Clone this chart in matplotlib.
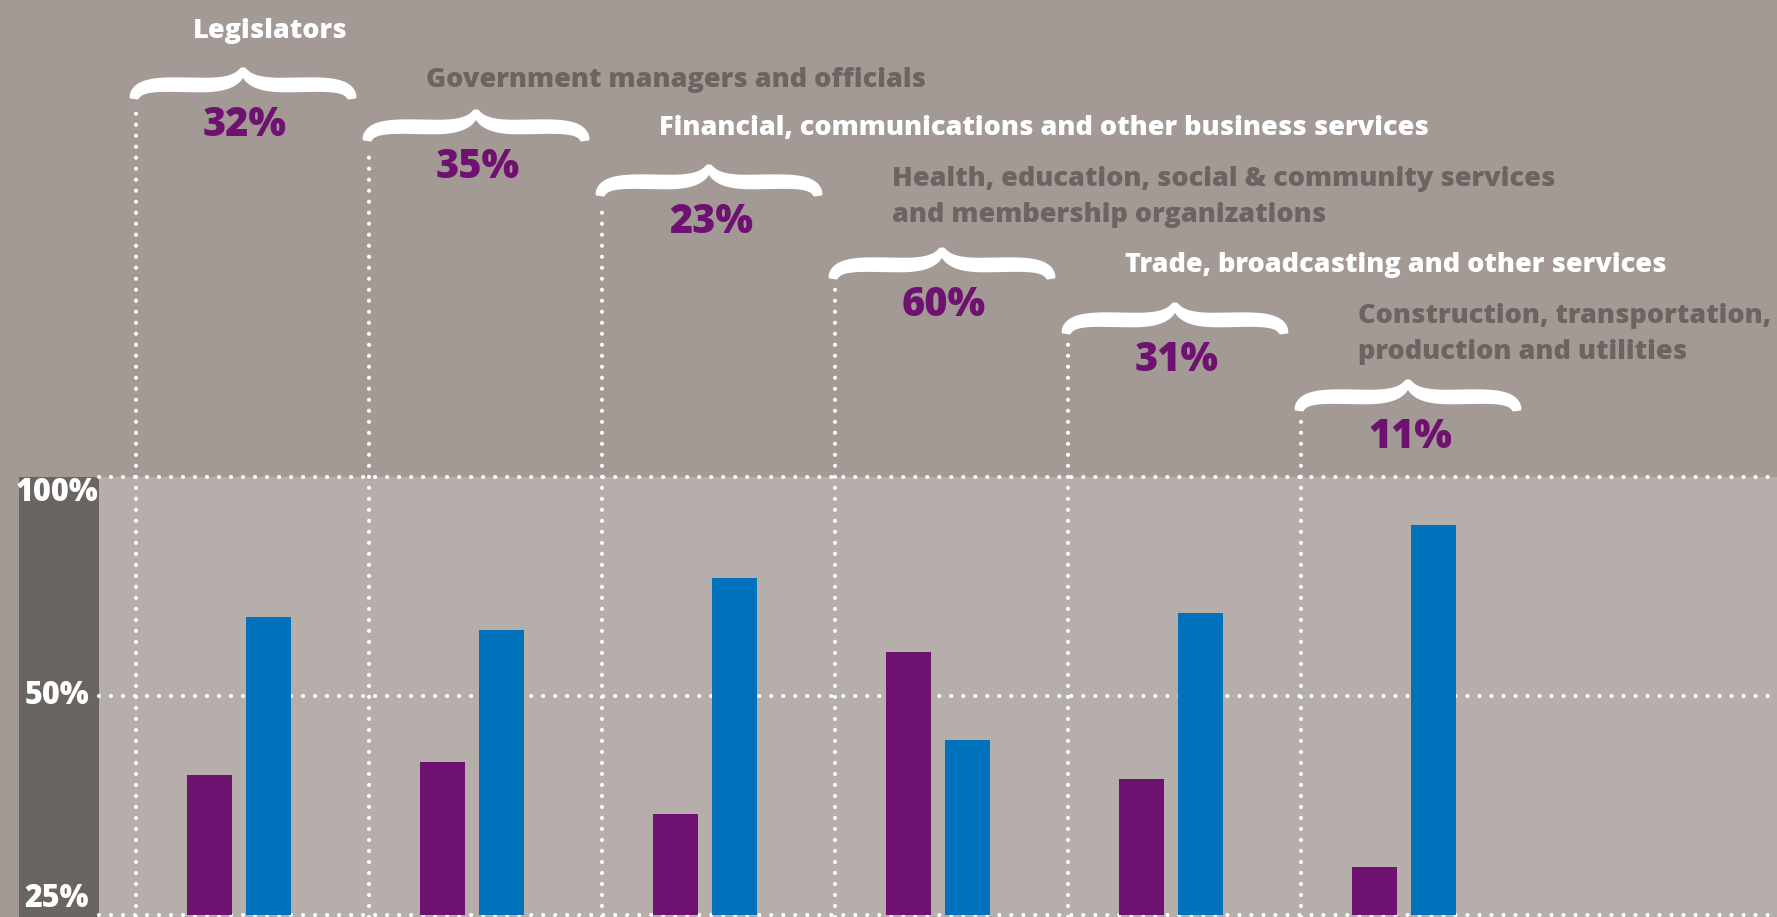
import numpy as np
import matplotlib
matplotlib.use("Agg")
import matplotlib.pyplot as plt
from matplotlib.patches import Polygon, Rectangle

# ---------------- data ----------------
categories = [
    "Legislators",
    "Government managers and officials",
    "Financial, communications and other business services",
    "Health, education, social & community services\nand membership organizations",
    "Trade, broadcasting and other services",
    "Construction, transportation,\nproduction and utilities",
]
women = [32, 35, 23, 60, 31, 11]
men = [68, 65, 77, 40, 69, 89]
share_labels = ["32%", "35%", "23%", "60%", "31%", "11%"]
ytick_values = [0, 50, 100]
ytick_labels = ["25%", "50%", "100%"]

# ---------------- style / layout ----------------
W, H, DPI = 1777, 917, 100
BG_OUT = "#a39a96"
BG_PLOT = "#b5aeab"
BG_AXIS = "#6b6561"
PURPLE = "#6e1170"
BLUE = "#0072bb"
GREY_TXT = "#6b6561"
FONT = "Open Sans"
WEIGHT = 800

label_colors = ["white", GREY_TXT, "white", GREY_TXT, "white", GREY_TXT]
tip_px = [68, 110, 165, 248, 303, 380]          # bracket tip (px from top)
label_base_px = [38, 87, 135, 186, 272, 323]     # first-line baseline (px from top)
line_gap_px = 36

ax_left_px, ax_top_px = 99, 477
xlim = (-0.601, 6.601)
ylim = (-0.5, 100)

fig = plt.figure(figsize=(W / DPI, H / DPI), dpi=DPI, facecolor=BG_OUT)
ax = fig.add_axes([ax_left_px / W, 0, (W - ax_left_px) / W, (H - ax_top_px) / H])
ax.set_facecolor(BG_PLOT)
ax.set_xlim(*xlim)
ax.set_ylim(*ylim)

sx = (W - ax_left_px) / (xlim[1] - xlim[0])
sy = (H - ax_top_px) / (ylim[1] - ylim[0])


def px2x(px):
    return xlim[0] + (px - ax_left_px) / sx


def py2y(py):
    return ylim[1] - (py - ax_top_px) / sy


# dark axis column
fig.add_artist(Rectangle((19 / W, 0), (ax_left_px - 19) / W, (H - ax_top_px) / H,
                         transform=fig.transFigure, facecolor=BG_AXIS,
                         edgecolor="none", zorder=-1))

for s in ax.spines.values():
    s.set_visible(False)
ax.set_xticks([])
ax.set_yticks(ytick_values, labels=ytick_labels)
ax.tick_params(axis="y", length=0, pad=30.2, labelsize=22, labelcolor="white")
for lab, va in zip(ax.get_yticklabels(), ["bottom", "center", "top"]):
    lab.set_ha("center")
    lab.set_va(va)
    lab.set_fontfamily(FONT)
    lab.set_fontweight(WEIGHT)

# dotted horizontal grid
dot_lw = 3.0
for v in ytick_values:
    ax.axhline(v, color="white", lw=dot_lw, linestyle=(0, (0.001, 2.88)),
               dash_capstyle="round", zorder=1, clip_on=False)

# bars
x = np.arange(len(categories))
bw = 0.193
off = 0.1266
ax.bar(x - off, women, width=bw, color=PURPLE, zorder=3)
ax.bar(x + off, men, width=bw, color=BLUE, zorder=3)


# curly bracket
def bezier(p0, p1, p2, p3, n=60):
    t = np.linspace(0, 1, n)[:, None]
    return ((1 - t) ** 3) * p0 + 3 * ((1 - t) ** 2) * t * p1 + 3 * (1 - t) * t ** 2 * p2 + t ** 3 * p3


seg1 = bezier(np.array([0, 0.]), np.array([3, -11.]), np.array([14, -17.]), np.array([40, -17.]))
seg2 = bezier(np.array([40, -17.]), np.array([75, -17.]), np.array([107, -13.]), np.array([109, -31.]))
cl = np.vstack([seg1, seg2[1:]])
sp = np.linspace(0, 1, len(cl))
thick = 3.5 + 10.5 * np.sin(np.pi * sp) ** 0.6 + 4.5 * sp ** 3
tan = np.gradient(cl, axis=0)
tan /= np.linalg.norm(tan, axis=1)[:, None]
nrm = np.column_stack([-tan[:, 1], tan[:, 0]])
upper = cl + nrm * thick[:, None] / 2
lower = cl - nrm * thick[:, None] / 2
left_upper = upper[::-1] * [-1, 1]
left_lower = lower * [-1, 1]
brace_px = np.vstack([left_upper, upper, lower[::-1], left_lower])

for i in range(len(categories)):
    cx_px = ax_left_px + (x[i] - xlim[0]) * sx
    tipx = cx_px + 4
    tipy = tip_px[i]
    pts = np.column_stack([px2x(tipx + brace_px[:, 0]), py2y(tipy - brace_px[:, 1])])
    ax.add_patch(Polygon(pts, closed=True, facecolor="white", edgecolor="none",
                         clip_on=False, zorder=4))
    # vertical dotted line
    vx = px2x(tipx - 107)
    ax.plot([vx, vx], [ylim[0], py2y(tipy + 37)], color="white", lw=dot_lw,
            linestyle=(0, (0.001, 2.64)), dash_capstyle="round",
            clip_on=False, zorder=2)
    # share label
    ax.text(px2x(tipx + 2), py2y(tipy + 57), share_labels[i], color=PURPLE,
            fontsize=28.5, fontweight=WEIGHT, fontfamily=FONT,
            ha="center", va="center", clip_on=False)
    # category label
    for j, line in enumerate(categories[i].split("\n")):
        ax.text(px2x(cx_px - 46), py2y(label_base_px[i] + j * line_gap_px), line,
                color=label_colors[i], fontsize=19.5, fontweight=WEIGHT,
                fontfamily=FONT, ha="left", va="baseline", clip_on=False)

fig.savefig("out.png", dpi=DPI, facecolor=BG_OUT)
